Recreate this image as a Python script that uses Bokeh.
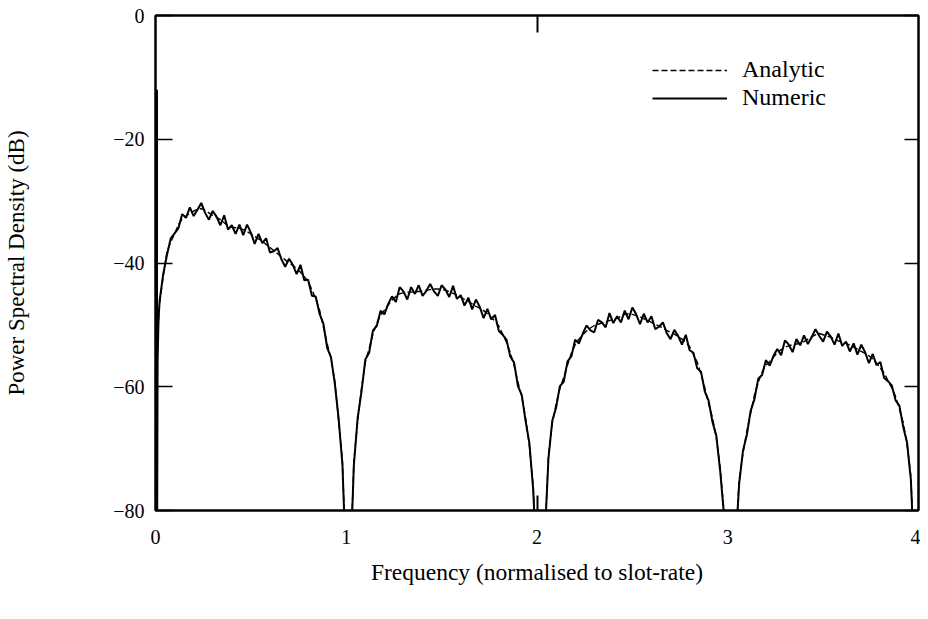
import numpy as np
from bokeh.plotting import figure
from bokeh.models import Range1d, FixedTicker, LinearAxis, Legend, LegendItem
from bokeh.embed import file_html
from bokeh.resources import INLINE

FONT = "Liberation Serif"

# ---------------- data ----------------
freq_grid = np.round(np.arange(0.04, 4.0001, 0.02), 2)  # 0.04 .. 4.00

analytic_head_x = [0.0, 0.004, 0.01, 0.02]
analytic_head_y = [-90, -62, -53, -47]
analytic_y = [
    -42.2, -38.2, -36.6, -35.3, -33.8, -32.9, -32.4, -32.0, -31.6, -31.3,
    -31.2, -31.5, -31.9, -32.3, -32.6, -33.0, -33.5, -34.0, -34.2, -34.3,
    -34.4, -34.6, -34.9, -35.3, -35.7, -36.1, -36.5, -37.0, -37.5, -38.0,
    -38.5, -39.0, -39.5, -40.0, -40.4, -40.9, -41.5, -42.2, -43.0, -44.3,
    -45.8, -47.6, -50.3, -53.0, -55.5, -59.0, -65.5, -72.0,
    -90, -90,
    -72.0, -65.5, -60.2, -56.0, -53.8, -51.5, -49.7, -48.5, -47.6, -46.8,
    -46.0, -45.4, -45.0, -44.8, -44.7, -44.7, -44.7, -44.6, -44.5, -44.4,
    -44.3, -44.2, -44.2, -44.3, -44.4, -44.6, -44.9, -45.2, -45.5, -45.9,
    -46.2, -46.6, -47.0, -47.3, -47.7, -48.2, -48.8, -49.4, -50.2, -51.5,
    -52.8, -54.5, -56.6, -59.2, -61.6, -65.0, -69.5, -76.0,
    -90, -90, -85,
    -71.0, -66.0, -62.8, -60.3, -58.5, -56.5, -54.6, -53.2, -52.3, -51.6,
    -51.0, -50.5, -50.1, -49.9, -49.7, -49.5, -49.3, -49.1, -48.9, -48.6,
    -48.3, -48.2, -48.3, -48.5, -48.7, -49.0, -49.3, -49.6, -49.9, -50.2,
    -50.5, -50.9, -51.2, -51.5, -51.9, -52.3, -52.8, -53.5, -54.8, -56.0,
    -58.0, -60.2, -62.8, -65.0, -68.2, -73.0, -80.0,
    -90, -90, -86,
    -75.0, -70.8, -67.2, -64.3, -61.3, -59.3, -57.6, -56.5, -55.9, -55.2,
    -54.5, -54.0, -53.6, -53.4, -53.2, -53.1, -53.0, -52.7, -52.3, -51.9,
    -51.6, -51.4, -51.6, -51.8, -52.0, -52.3, -52.6, -52.8, -53.0, -53.3,
    -53.6, -53.9, -54.3, -54.6, -55.0, -55.5, -56.2, -57.0, -57.8, -59.0,
    -60.2, -61.6, -63.6, -65.8, -69.3, -74.5,
    -90, -90,
]

numeric_head_x = [0.008, 0.008, 0.011, 0.016, 0.022]
numeric_head_y = [-12, -90, -56, -49, -46]
numeric_y = [
    -41.9, -38.7, -36.0, -35.2, -34.4, -32.1, -32.7, -31.0, -32.4, -31.4,
    -30.3, -31.9, -33.0, -31.6, -32.5, -33.9, -32.3, -34.6, -33.9, -35.3,
    -33.8, -35.5, -33.8, -35.1, -36.9, -35.3, -36.8, -36.0, -38.3, -38.1,
    -37.6, -39.4, -40.6, -39.3, -40.3, -41.8, -40.3, -42.8, -42.7, -45.3,
    -45.4, -48.2, -49.8, -53.7, -55.2, -59.5, -65.1, -72.6,
    -90, -90,
    -72.6, -65.0, -60.8, -55.6, -54.5, -50.9, -50.2, -47.7, -48.3, -46.6,
    -45.4, -46.3, -43.9, -44.6, -45.9, -43.9, -45.0, -43.6, -45.3, -44.5,
    -43.4, -44.6, -45.3, -43.6, -44.3, -45.5, -43.7, -45.8, -45.2, -46.9,
    -45.6, -47.5, -45.9, -47.1, -48.9, -47.4, -49.1, -48.4, -51.0, -51.6,
    -52.4, -55.1, -56.1, -59.9, -61.3, -65.5, -69.1, -76.6,
    -90, -90, -85,
    -71.6, -65.5, -63.4, -59.9, -59.2, -55.9, -55.1, -52.4, -53.0, -51.4,
    -50.1, -50.9, -51.2, -49.2, -49.6, -50.4, -48.1, -49.7, -48.6, -49.6,
    -47.7, -49.1, -47.2, -48.3, -49.9, -48.2, -49.6, -48.6, -50.7, -50.3,
    -49.6, -51.3, -52.3, -50.8, -51.8, -53.2, -51.6, -54.1, -54.5, -57.0,
    -57.6, -60.8, -62.3, -65.7, -67.9, -73.5, -80.6,
    -90, -90, -86,
    -75.6, -70.3, -67.8, -63.9, -62.0, -58.7, -58.1, -55.7, -56.6, -55.0,
    -53.9, -54.9, -52.5, -53.2, -54.4, -52.3, -53.3, -51.7, -53.1, -52.0,
    -50.7, -51.8, -52.7, -51.1, -51.9, -53.2, -51.4, -53.4, -52.7, -54.3,
    -53.0, -54.8, -53.2, -54.4, -56.2, -54.7, -56.5, -56.0, -58.6, -59.1,
    -59.8, -62.2, -63.1, -66.5, -69.0, -75.0,
    -90, -90,
]

x_ticks = [0, 1, 2, 3, 4]
y_ticks = [-80, -60, -40, -20, 0]
y_tick_labels = {v: ("0" if v == 0 else "\u2212" + str(abs(v))) for v in y_ticks}

analytic_x = list(analytic_head_x) + list(freq_grid)
analytic_all = list(analytic_head_y) + analytic_y
numeric_x = list(numeric_head_x) + list(freq_grid)
numeric_all = list(numeric_head_y) + numeric_y

# ---------------- figure ----------------
p = figure(width=920, height=600, output_backend="svg", toolbar_location=None,
           x_range=Range1d(0, 4), y_range=Range1d(-80, 0),
           min_border_left=155, min_border_right=2, min_border_top=15,
           min_border_bottom=90)
p.xgrid.visible = False
p.ygrid.visible = False
p.outline_line_color = "black"
p.outline_line_width = 2
p.background_fill_color = "white"
p.border_fill_color = "white"

r_num = p.line(numeric_x, numeric_all, line_color="black", line_width=2.0)
r_ana = p.line(analytic_x, analytic_all, line_color="black", line_width=1.4,
               line_dash="6 3")

# bottom axis
xa = p.xaxis[0]
xa.ticker = FixedTicker(ticks=x_ticks, minor_ticks=[2])
xa.major_tick_in = 0
xa.major_tick_out = 0
xa.minor_tick_in = 15
xa.minor_tick_out = 0
xa.minor_tick_line_width = 2
xa.axis_line_width = 2
xa.major_label_text_font = FONT
xa.major_label_text_font_size = "20px"
xa.major_label_text_color = "black"
xa.major_label_standoff = 19
xa.axis_label = "Frequency (normalised to slot-rate)"
xa.axis_label_text_font = FONT
xa.axis_label_text_font_size = "23.5px"
xa.axis_label_text_font_style = "normal"
xa.axis_label_text_color = "black"
xa.axis_label_standoff = 12

# left axis
ya = p.yaxis[0]
ya.ticker = FixedTicker(ticks=y_ticks)
ya.major_label_overrides = y_tick_labels
ya.major_tick_in = 17
ya.major_tick_out = 0
ya.major_tick_line_width = 1.5
ya.minor_tick_in = 0
ya.minor_tick_out = 0
ya.axis_line_width = 2
ya.major_label_text_font = FONT
ya.major_label_text_font_size = "20px"
ya.major_label_text_color = "black"
ya.major_label_standoff = 11
ya.axis_label = "Power Spectral Density (dB)"
ya.axis_label_text_font = FONT
ya.axis_label_text_font_size = "23px"
ya.axis_label_text_font_style = "normal"
ya.axis_label_text_color = "black"
ya.axis_label_standoff = 81

# right axis (ticks only)
ra = LinearAxis(ticker=FixedTicker(ticks=y_ticks), major_tick_in=14, major_tick_out=0,
                minor_tick_in=0, minor_tick_out=0, major_tick_line_width=1.5,
                axis_line_width=2, major_label_overrides={v: "" for v in y_ticks},
                major_label_text_font_size="2px", major_label_standoff=0)
p.add_layout(ra, "right")

# top axis (single tick at 2)
ta = LinearAxis(ticker=FixedTicker(ticks=[2]), major_tick_in=17, major_tick_out=0,
                minor_tick_in=0, minor_tick_out=0, major_tick_line_width=2,
                axis_line_width=2, major_label_overrides={2: ""},
                major_label_text_font_size="2px", major_label_standoff=0)
p.add_layout(ta, "above")

legend = Legend(items=[LegendItem(label="Analytic", renderers=[r_ana]),
                       LegendItem(label="Numeric", renderers=[r_num])],
                location=(497, 399), glyph_width=75, glyph_height=20,
                label_height=20, label_standoff=15, spacing=1, padding=0,
                margin=0, border_line_alpha=0, background_fill_alpha=0,
                label_text_font=FONT, label_text_font_size="24px",
                label_text_color="black")
p.add_layout(legend)

open("out.html", "w").write(file_html(p, INLINE))
